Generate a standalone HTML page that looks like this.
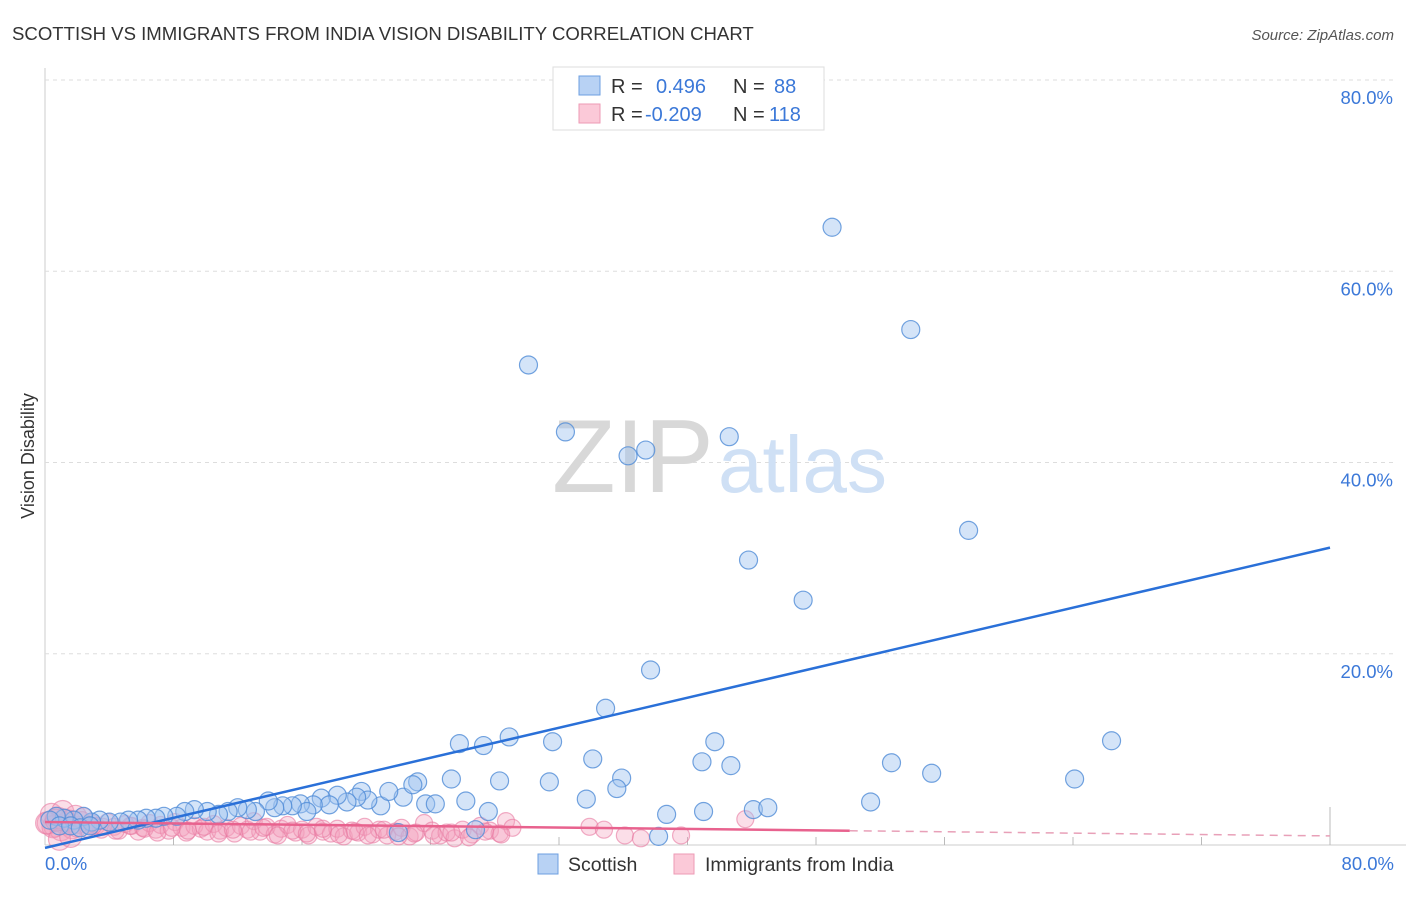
<!DOCTYPE html>
<html><head><meta charset="utf-8"><style>
body{margin:0;background:#fff;font-family:"Liberation Sans",sans-serif;}
svg text{font-family:"Liberation Sans",sans-serif;}
</style></head><body>
<svg width="1406" height="892" xmlns="http://www.w3.org/2000/svg">
<text x="12" y="40" font-size="18.6" fill="#333">SCOTTISH VS IMMIGRANTS FROM INDIA VISION DISABILITY CORRELATION CHART</text>
<text x="1394" y="40" font-size="15" fill="#555" font-style="italic" text-anchor="end">Source: ZipAtlas.com</text>
<g id="grid"></g>
<text x="552" y="492" font-size="104" fill="#d8d8d8" font-family="Liberation Serif">ZIP</text>
<text x="718" y="492" font-size="80" fill="#cfe0f5">atlas</text>
<text x="34" y="456" font-size="18" fill="#333" text-anchor="middle" transform="rotate(-90 34 456)">Vision Disability</text>
<g id="ticks"></g>
<text x="45" y="870" font-size="18.5" fill="#3b78d8">0.0%</text>
<text x="1394" y="870" font-size="18.5" fill="#3b78d8" text-anchor="end">80.0%</text>
<g id="pink"></g>
<g id="blue"></g>
<g id="trends"></g>
<g>
<rect x="553" y="67" width="271" height="63" fill="#fff" stroke="#ddd"/>
<rect x="579" y="76" width="21" height="19" fill="#b8d2f4" stroke="#6d9fe0"/>
<rect x="579" y="104" width="21" height="19" fill="#fbc9d8" stroke="#ee9ab5"/>
<text x="611" y="93" font-size="20" fill="#333">R = </text><text x="656" y="93" font-size="20" fill="#3b78d8">0.496</text>
<text x="733" y="93" font-size="20" fill="#333">N = </text><text x="774" y="93" font-size="20" fill="#3b78d8">88</text>
<text x="611" y="121" font-size="20" fill="#333">R = </text><text x="645" y="121" font-size="20" fill="#3b78d8">-0.209</text>
<text x="733" y="121" font-size="20" fill="#333">N = </text><text x="769" y="121" font-size="20" fill="#3b78d8">118</text>
</g>
<g><rect x="538" y="854" width="20" height="20" fill="#b8d2f4" stroke="#6d9fe0"/><text x="568" y="871" font-size="19.5" fill="#333">Scottish</text></g>
<g><rect x="674" y="854" width="20" height="20" fill="#fbc9d8" stroke="#ee9ab5"/><text x="705" y="871" font-size="19.5" fill="#333">Immigrants from India</text></g>
</svg>
<script>
const yTicks=[20,40,60,80];
const blueX=[49.0,53.9,30.1,32.4,36.3,37.4,42.6,57.5,43.8,47.2,37.7,34.9,25.8,27.3,28.9,31.6,41.7,66.4,34.1,40.9,42.7,52.7,55.2,64.1,25.3,28.3,31.4,35.9,33.7,35.6,26.2,27.6,38.7,41.0,44.1,45.0,51.4,26.8,38.2,22.0,23.7,24.3,22.3,20.9,23.2,22.9,21.4,19.7,20.1,19.4,18.8,18.2,17.2,17.7,16.7,15.9,16.3,15.4,14.8,14.3,13.9,13.1,12.6,12.0,11.4,10.8,10.1,9.3,8.7,8.2,7.4,6.9,6.3,5.8,5.2,4.7,4.0,3.4,2.9,2.4,1.8,1.2,0.7,0.3,0.9,1.6,2.2,2.8];
const blueY=[64.6,53.9,50.2,43.2,40.7,41.3,42.7,32.9,29.8,25.6,18.3,14.3,10.6,10.4,11.3,10.8,10.8,10.9,9.0,8.7,8.3,8.6,7.5,6.9,6.9,6.7,6.6,7.0,4.8,5.9,4.6,3.5,3.2,3.5,3.7,3.9,4.5,1.6,0.9,1.3,4.3,4.3,5.0,4.1,6.6,6.3,5.6,5.6,4.7,5.0,4.5,5.2,4.9,4.2,4.2,4.3,3.5,4.1,4.1,3.9,4.6,3.5,3.7,3.9,3.5,3.2,3.5,3.7,3.5,3.0,3.0,2.8,2.8,2.6,2.6,2.4,2.4,2.6,2.4,3.0,2.6,2.8,3.0,2.6,2.0,2.0,1.8,2.0];
const pinkX=[0.2,0.4,0.6,0.8,1.0,1.1,1.3,1.5,1.7,1.9,2.1,2.3,2.6,2.9,3.2,3.5,3.9,4.3,4.6,5.0,5.4,5.8,6.1,6.5,6.9,7.2,7.7,8.1,8.5,8.8,9.3,9.7,10.1,10.5,10.9,11.3,11.8,12.2,12.6,13.0,13.4,13.8,14.3,14.7,15.1,15.6,16.0,16.4,16.9,17.3,17.8,18.2,18.6,19.1,19.5,19.9,20.4,20.8,21.3,21.8,22.2,22.7,23.1,23.6,24.1,24.6,25.0,25.5,26.0,26.6,27.1,27.7,28.3,28.7,29.1,0.5,1.2,2.0,2.7,3.6,4.4,5.3,6.2,7.0,7.9,8.9,9.9,10.8,11.7,12.8,13.6,14.5,15.4,16.3,17.3,18.3,19.3,20.1,21.1,22.0,23.0,24.2,25.3,26.4,27.4,28.4,33.9,34.8,36.1,37.1,39.6,43.6,0.1,0.9,1.6,2.4,3.0,0.7];
const pinkY=[2.3,3.2,2.0,2.8,1.6,3.5,2.2,2.5,1.8,3.0,2.1,2.6,1.7,2.3,2.0,1.6,2.4,1.9,1.5,2.2,2.0,1.4,1.8,2.3,1.6,2.1,1.5,2.4,1.8,1.3,2.0,1.7,1.4,2.2,1.5,1.8,1.2,2.0,1.6,2.5,1.4,1.9,1.1,1.7,2.1,1.3,1.6,1.0,1.9,1.4,1.2,1.7,0.9,1.5,1.3,1.9,1.1,1.6,1.0,1.4,1.8,0.9,1.3,2.3,1.5,1.0,1.3,0.7,1.6,1.1,2.0,1.5,1.2,2.5,1.8,1.9,2.6,1.7,2.1,1.9,1.5,2.0,1.7,1.3,1.8,1.5,1.9,1.2,1.6,1.4,1.8,1.0,1.5,1.2,1.7,1.1,1.4,1.0,1.6,0.9,1.2,1.0,1.3,0.8,1.4,1.1,1.9,1.6,1.0,0.7,1.0,2.7,2.3,0.6,0.9,3.0,2.0,2.6,1.4,2.0];
const blueTrend=[-0.3,31.1];
const pinkTrend=[2.4,0.95];
const pinkSolidEnd=50.1;
const X0=45,X1=1330,Y0=845,Y80=80;
const sx=v=>X0+(X1-X0)*v/80, sy=v=>Y0-(Y0-Y80)*v/80;
const NS="http://www.w3.org/2000/svg";
function mk(t,a,p){const e=document.createElementNS(NS,t);for(const k in a)e.setAttribute(k,a[k]);p.appendChild(e);return e;}
const grid=document.getElementById('grid'),ticks=document.getElementById('ticks');
mk('line',{x1:X0,y1:68,x2:X0,y2:Y0,stroke:'#ccc'},grid);
mk('line',{x1:X0,y1:Y0,x2:1406,y2:Y0,stroke:'#ccc'},grid);
for(let i=1;i<=10;i++){const x=sx(i*8);mk('line',{x1:x,y1:i==10?807:837,x2:x,y2:Y0,stroke:'#bbb'},grid);}
yTicks.forEach(v=>{
  const l=mk('line',{x1:X0,y1:sy(v),x2:1394,y2:sy(v),stroke:'#ddd','stroke-dasharray':'4,4'},grid);
  
  
  const t=mk('text',{x:1393,y:sy(v)+24,'font-size':18.5,fill:'#3b78d8','text-anchor':'end'},ticks);
  t.textContent=v.toFixed(1)+'%';
  
  
});
const pg=document.getElementById('pink');
pinkX.forEach((x,i)=>{
  const c=mk('circle',{cx:sx(x),cy:sy(pinkY[i]),r:(x<2?11:8.5),fill:'rgba(244,160,188,0.35)',stroke:'rgba(232,120,160,0.6)','stroke-width':1.2},pg);
  
  
});
const bg=document.getElementById('blue');
blueX.forEach((x,i)=>{
  const c=mk('circle',{cx:sx(x),cy:sy(blueY[i]),r:9,fill:'rgba(160,196,240,0.45)',stroke:'rgba(80,140,215,0.8)','stroke-width':1.2},bg);
  
  
});
const tg=document.getElementById('trends');
const bl=mk('line',{x1:sx(0),y1:sy(blueTrend[0]),x2:sx(80),y2:sy(blueTrend[1]),stroke:'#2a70d8','stroke-width':2.5},tg);


const py=v=>pinkTrend[0]+(pinkTrend[1]-pinkTrend[0])*v/80;
const pl=mk('line',{x1:sx(0),y1:sy(py(0)),x2:sx(pinkSolidEnd),y2:sy(py(pinkSolidEnd)),stroke:'#e8628e','stroke-width':2.5},tg);


const pd=mk('line',{x1:sx(pinkSolidEnd),y1:sy(py(pinkSolidEnd)),x2:sx(80),y2:sy(py(80)),stroke:'#e8a0b8','stroke-width':1.5,'stroke-dasharray':'8,6'},tg);


</script>
</body></html>
